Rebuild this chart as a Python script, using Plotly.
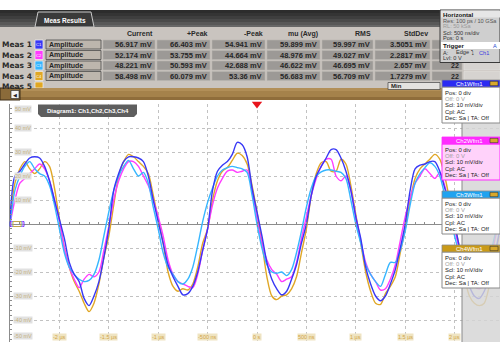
import plotly.graph_objects as go

W, H = 500, 342
def X(px): return px / W
def Y(py): return 1 - py / H

# ---------------- data ----------------
time_us = [-2.50, -2.45, -2.40, -2.35, -2.30, -2.25, -2.20, -2.15, -2.10, -2.05,
           -2.00, -1.95, -1.90, -1.85, -1.80, -1.75, -1.70, -1.65, -1.60, -1.55,
           -1.50, -1.45, -1.40, -1.35, -1.30, -1.25, -1.20, -1.15, -1.10, -1.05,
           -1.00, -0.95, -0.90, -0.85, -0.80, -0.75, -0.70, -0.65, -0.60, -0.55,
           -0.50, -0.45, -0.40, -0.35, -0.30, -0.25, -0.20, -0.15, -0.10, -0.05,
           0.00, 0.05, 0.10, 0.15, 0.20, 0.25, 0.30, 0.35, 0.40, 0.45,
           0.50, 0.55, 0.60, 0.65, 0.70, 0.75, 0.80, 0.85, 0.90, 0.95,
           1.00, 1.05, 1.10, 1.15, 1.20, 1.25, 1.30, 1.35, 1.40, 1.45,
           1.50, 1.55, 1.60, 1.65, 1.70, 1.75, 1.80, 1.85, 1.90, 1.95,
           2.00, 2.05, 2.10, 2.15, 2.20, 2.25, 2.30, 2.35, 2.40, 2.45]

ch1_mv = [2, 20, 22, 25, 27.5, 28, 27.5, 24, 18, 10,
          2, -6, -16, -21, -24, -31, -34, -30, -24, -14,
          -2, 14, 21, 26, 28, 28, 27.5, 26, 20, 10,
          1, -8, -17, -22, -26, -29.5, -29, -26, -20, -11,
          -2, 14, 22, 24.5, 26, 29, 34, 33, 28, 15,
          5, -5, -16, -23, -27, -29.5, -28, -23, -17, -8,
          0, 12, 20, 24, 27.5, 31, 31, 27.5, 22, 14,
          3, -6, -18, -25, -30, -32, -30, -25, -19, -10,
          0, 14, 23, 24.5, 25, 26, 26, 22, 15, 8,
          0, -10, -20, -26, -30, -31, -28, -22, -14, -4]

ch2_mv = [0, 10, 17, 19, 21, 23, 25, 23, 18, 10,
          1, -10, -18, -23, -26.5, -23, -21, -22, -20, -11,
          -1, 10, 18, 23, 26, 26, 24, 20, 16, 10,
          3, -5, -15, -21, -24, -25, -26, -26.5, -21, -11,
          -2, 8, 15, 19, 22, 22.5, 21.5, 22, 22.5, 14,
          2, -8, -15, -19, -21, -24, -23, -22, -16, -6,
          3, 12, 19, 24, 27, 27, 20, 18, 20, 14,
          3, -7, -16, -21, -24, -27.5, -27, -23, -17, -7,
          3, 11, 17, 20, 23, 21, 19, 21.5, 16, 7,
          -2, -11, -18, -23, -26, -27, -25, -18, -8, 2]

ch3_mv = [0, 14, 20, 24, 26, 23, 21, 20, 16, 8,
          -2, -12, -18, -21, -23, -24, -23.5, -21, -15, -5,
          5, 14, 20, 24, 26.5, 23, 20, 21.5, 17, 7,
          -2, -12, -18, -21, -24, -25, -23, -18, -9, 1,
          9, 15, 20, 22.5, 23.5, 24, 23.5, 23, 21.5, 12,
          0, -10, -17, -20, -20.5, -20, -21.5, -19, -12, -3,
          7, 15, 20, 21.7, 22.5, 22.5, 22, 21.5, 19, 10,
          0, -8, -17, -21, -24, -26, -21, -16, -16, -11,
          -3, 8, 17, 21, 23.5, 25.5, 24, 20, 12, 3,
          -5, -13, -19, -23, -25, -25, -22, -15, -6, 3]

ch4_mv = [2, 17, 23, 26, 23, 21, 23, 26, 24, 15,
          2, -10, -18, -24, -28, -33, -36.5, -33, -25, -14,
          -5, 8, 20, 26, 29, 28, 26, 24, 21, 12,
          2, -8, -20, -26, -28, -27, -27.5, -25, -18, -8,
          -2, 10, 18, 22, 23.5, 26.5, 29.5, 28.5, 25, 16,
          5, -8, -22, -30, -31.5, -30, -29.5, -27, -22, -12,
          -2, 12, 21, 25.5, 26, 22, 22, 27, 25, 16,
          4, -8, -20, -28, -33, -33.5, -29, -26, -22, -12,
          -2, 10, 19, 23, 25, 27, 29, 27, 20, 10,
          0, -10, -22, -30, -33, -34, -33, -26, -16, -5]

channel_names = ["Ch1", "Ch2", "Ch3", "Ch4"]
channel_colors = ["#3838f5", "#ff3cff", "#36b6ff", "#e0a726"]

meas_labels = ["Meas 1", "Meas 2", "Meas 3", "Meas 4"]
meas_type = ["Amplitude", "Amplitude", "Amplitude", "Amplitude"]
col_headers = ["Current", "+Peak", "-Peak", "mu (Avg)", "RMS", "StdDev"]
current_vals = ["56.917 mV", "52.174 mV", "48.221 mV", "58.498 mV"]
peak_pos_vals = ["66.403 mV", "53.755 mV", "50.593 mV", "60.079 mV"]
peak_neg_vals = ["54.941 mV", "44.664 mV", "42.688 mV", "53.36 mV"]
mu_avg_vals = ["59.899 mV", "48.976 mV", "46.622 mV", "56.683 mV"]
rms_vals = ["59.997 mV", "49.027 mV", "46.695 mV", "56.709 mV"]
stddev_vals = ["3.5051 mV", "2.2817 mV", "2.657 mV", "1.7279 mV"]
count_vals = ["22", "22", "22", "22"]

x_tick_vals = [-2, -1.5, -1, -0.5, 0, 0.5, 1, 1.5, 2, 2.5]
x_tick_text = ["-2 µs", "-1.5 µs", "-1 µs", "-500 ns", "0 s", "500 ns", "1 µs", "1.5 µs", "2 µs", "2.5 µs"]
y_tick_vals = [50, 40, 30, 20, 10, -10, -20, -30, -40, -50]
y_tick_text = ["50 mV", "40 mV", "30 mV", "20 mV", "10 mV", "-10 mV", "-20 mV", "-30 mV", "-40 mV", "-50 mV"]
trigger_time = [0.0]

# ---------------- layout helpers ----------------
shapes = []
annotations = []
UI = "DejaVu Sans"
NUM = "Liberation Sans"

def rect(x0, y0, x1, y1, fill, line=None, lw=1, layer="above"):
    shapes.append(dict(type="rect", xref="paper", yref="paper",
                       x0=X(x0), x1=X(x1), y0=Y(y1), y1=Y(y0),
                       fillcolor=fill, layer=layer,
                       line=dict(color=line or fill, width=lw if line else 0)))

def path(pts, fill, line=None, lw=1, layer="above"):
    d = "M " + " L ".join(f"{X(a):.5f},{Y(b):.5f}" for a, b in pts) + " Z"
    shapes.append(dict(type="path", xref="paper", yref="paper", path=d,
                       fillcolor=fill, layer=layer,
                       line=dict(color=line or fill, width=lw if line else 0)))

def txt(x, y, s, size=7, color="#222", bold=False, xanchor="left", family=UI, bg=None):
    annotations.append(dict(x=X(x), y=Y(y), xref="paper", yref="paper",
                            text=s, showarrow=False, xanchor=xanchor, yanchor="middle",
                            font=dict(size=size, color=color, family=family,
                                      weight="bold" if bold else "normal"),
                            bgcolor=bg, borderpad=0))

# ---------------- top panel ----------------
rect(0, 0, 500, 10, "#ffffff")
for (a, b, c) in [(10, 13, "#2c2c2c"), (13, 16, "#343434"), (16, 19, "#3e3e3e"),
                  (19, 22, "#4a4a4a"), (22, 25, "#585858"), (25, 27, "#676767")]:
    rect(0, a, 440, b, c)
path([(35, 27), (38, 12), (91, 12), (94, 27)], "#3a3a3a", line="#c8c8c8", lw=1)
txt(64.5, 20, "Meas Results", size=6.5, color="#ffffff", bold=True, xanchor="center", family=NUM)

rect(0, 27, 440, 88, "#c9c4bf")
rect(440, 62, 500, 88, "#c9c4bf")

col_right = [155, 210, 265, 320, 373, 430]
col_left = [103, 157, 212, 267, 322, 375]
for h, xr in zip(col_headers, col_right):
    txt(xr - 1, 34, h, size=7, color="#2a2a2a", bold=True, xanchor="right", family=NUM)

row_c = [44.5, 55.0, 65.5, 76.0]
cols_vals = [current_vals, peak_pos_vals, peak_neg_vals, mu_avg_vals, rms_vals, stddev_vals]
for i in range(4):
    yc = row_c[i]
    txt(1, yc, meas_labels[i], size=7.5, color="#2a2a2a", bold=True, family=UI)
    rect(35, yc - 4.5, 43, yc + 4.5, channel_colors[i], line="#f0f0f0", lw=0.7)
    txt(39, yc, "C" + str(i + 1), size=4, color="#ffffff", xanchor="center", family=NUM)
    rect(46, yc - 4.5, 101, yc + 4.5, "#bdb6ad", line="#4a4a4a", lw=0.8)
    txt(48, yc, meas_type[i], size=7, color="#262626", bold=True, family=NUM)
    for j in range(6):
        rect(col_left[j], yc - 4.5, col_right[j], yc + 4.5, "#9c9996", line="#b9b5b0", lw=0.6)
        txt(col_right[j] - 2, yc, cols_vals[j][i], size=7.5, color="#262626", bold=True,
            xanchor="right", family=NUM)
    rect(432, yc - 4.5, 462, yc + 4.5, "#9c9996", line="#b9b5b0", lw=0.6)
    if yc > 64:
        txt(460, yc + 0.3, count_vals[i], size=7, color="#262626", bold=True, xanchor="right", family=NUM)
    rect(464, yc - 4.5, 500, yc + 4.5, "#d6d3d0", line="#e2e0de", lw=0.6)
txt(1, 86.5, "Meas 5", size=7.5, color="#2a2a2a", bold=True, family=UI)
rect(35, 82, 43, 88, "#e0a722", line="#f0f0f0", lw=0.7)

# brown scroll bar
for (a, b, c) in [(88, 91, "#b28f58"), (91, 97, "#a5824b"), (97, 100, "#8f6d3b")]:
    rect(0, a, 500, b, c)
rect(0, 88, 20, 100, "#8b6b3a", line="#3e2f18", lw=1)
rect(11, 90.5, 19, 98.5, "#f4f4f4", line="#222222", lw=0.6)
txt(15, 94.5, "◀", size=5, color="#222222", xanchor="center", family=UI)
rect(495, 90, 496, 98, "#3e2f18")
rect(497.5, 90, 498.5, 98, "#3e2f18")
rect(388, 82.5, 440, 89.5, "#e4e2df", line="#444444", lw=0.7)
txt(390, 86, "Min", size=6, color="#222222", bold=True, family=NUM)

# Horizontal panel
rect(440, 10, 500, 62.5, "#cfcfcf", line="#3a3a3a", lw=1)
rect(441, 10.5, 500, 17.5, "#e6e6e6")
txt(442, 14, "Horizontal", size=6.2, color="#111111", bold=True, family=NUM)
txt(442, 20.5, "Res: 100 ps / 10 GSa", size=5.6, color="#555555", family=NUM)
txt(442, 26.5, "RL: 50 kSa", size=5.6, color="#9a9a9a", family=NUM)
txt(442, 32.5, "Scl: 500 ns/div", size=5.6, color="#333333", family=NUM)
txt(442, 38.5, "Pos: 0 s", size=5.6, color="#333333", family=NUM)
rect(441, 42, 500, 49, "#ffffff")
txt(442, 45.5, "Trigger", size=6.2, color="#111111", bold=True, family=NUM)
txt(498, 45.5, "A", size=5.6, color="#2a4ad0", xanchor="right", family=NUM)
txt(442, 53, "A:", size=5.6, color="#333333", family=NUM)
txt(455, 53, "Edge ⤵", size=5.6, color="#333333", family=NUM)
txt(478, 53, "Ch1", size=5.6, color="#3a3ae0", family=NUM)
txt(442, 58.5, "Lvl: 0 V", size=5.6, color="#333333", family=NUM)

# ---------------- plot decorations ----------------
path([(38, 104.5), (137, 104.5), (137, 114), (134, 117), (41, 117), (38, 114)], "#5e5e5e")
txt(87.5, 111, "Diagram1: Ch1,Ch2,Ch3,Ch4", size=6, color="#ffffff", bold=True, xanchor="center", family=NUM)

for k, c in enumerate(["#3535f5", "#ff3cff", "#32b4ff", "#e0a722"]):
    rect(10 + k, 221.5, 24 - k, 226.5, "rgba(0,0,0,0)", line=c, lw=0.8)

rect(462, 100, 500, 342, "rgba(212,212,212,0.82)", line=None)
rect(461.5, 100, 462.5, 342, "#8a8a8a")

for v, t in zip(y_tick_vals, y_tick_text):
    ypx = 224 - v * 2.4
    if v == 50:
        ypx = 109
    if v == -50:
        ypx = 336
    txt(23, ypx, t, size=5.5, color="#c6b27e", xanchor="center", family=NUM, bg="#e1e1e1")
for v, t in zip(x_tick_vals, x_tick_text):
    annotations.append(dict(x=v, y=Y(336.5), xref="x", yref="paper", text=t, showarrow=False,
                            xanchor=("right" if v == 2.5 else "center"), yanchor="middle",
                            xshift=(-5 if v == 2.5 else 0),
                            font=dict(size=5.5, color="#d2a648", family=NUM),
                            bgcolor="#efe4c2", borderpad=0))

def chbox(yh, head_col, body_col, border_col, label):
    rect(442, yh + 7, 500, yh + 43, body_col, line=border_col, lw=1)
    rect(442, yh, 500, yh + 7, head_col, line=border_col, lw=0.8)
    txt(469, yh + 3.8, label, size=6, color="#ffffff", xanchor="center", family=NUM)
    rect(490, yh + 1.3, 498, yh + 5.7, "#d8a82a", line="#333333", lw=0.6)
    lines = [("Pos: 0 div", "#222222"), ("Off: 0 V", "#a0a0a0"), ("Scl: 10 mV/div", "#222222"),
             ("Cpl: AC", "#222222"), ("Dec: Sa | TA: Off", "#222222")]
    for k, (s, c) in enumerate(lines):
        txt(443.5, yh + 12.5 + 6.4 * k, s, size=5.9, color=c, family=NUM)

chbox(80, "#2b2bf2", "#ffffff", "#8a8a8a", "Ch1Wfm1")
chbox(137, "#ff2cff", "#ffd2fa", "#ff2cff", "Ch2Wfm1")
chbox(191, "#1fa3f0", "#ffffff", "#8a8a8a", "Ch3Wfm1")
chbox(245, "#c99a18", "#ffffff", "#8a8a8a", "Ch4Wfm1")

# ---------------- traces ----------------
fig = go.Figure()
series = [ch4_mv, ch2_mv, ch3_mv, ch1_mv]
order = [3, 1, 2, 0]
for s, k in zip(series, order):
    fig.add_trace(go.Scatter(x=time_us, y=s, mode="lines", name=channel_names[k],
                             line=dict(color=channel_colors[k], width=1.4, shape="spline", smoothing=0.8),
                             hoverinfo="skip"))
fig.add_trace(go.Scatter(x=trigger_time, y=[50], mode="markers",
                         marker=dict(symbol="triangle-down", size=9, color="#e8141c"),
                         cliponaxis=False, hoverinfo="skip"))

x_range = [-2.5, -2.5 + 490 / 98.8]
y_range = [50 - 238 / 2.4, 50]
fig.update_layout(
    width=W, height=H, margin=dict(l=0, r=0, t=0, b=0),
    paper_bgcolor="#ffffff", plot_bgcolor="#ffffff", showlegend=False,
    xaxis=dict(domain=[X(10), 1], range=x_range, dtick=0.5, tick0=0, showgrid=True,
               gridcolor="#c2c2c2", griddash="dot", gridwidth=1, zeroline=False,
               showticklabels=False, showline=False, ticks=""),
    xaxis2=dict(overlaying="x", anchor="free", position=Y(224), range=x_range,
                showgrid=False, zeroline=False, showticklabels=False, showline=False,
                ticks="outside", ticklen=2, tickcolor="#8c8c8c", dtick=0.5, tick0=0,
                minor=dict(dtick=0.1, ticks="inside", ticklen=2, tickcolor="#8c8c8c")),
    yaxis=dict(domain=[0, Y(104)], range=y_range, dtick=10, tick0=0, showgrid=True,
               gridcolor="#c2c2c2", griddash="dot", gridwidth=1,
               zeroline=True, zerolinecolor="#8c8c8c", zerolinewidth=1,
               showticklabels=False, showline=True, linecolor="#8c8c8c", linewidth=1,
               ticks="inside", ticklen=3, tickcolor="#8c8c8c",
               minor=dict(dtick=2, ticks="inside", ticklen=2, tickcolor="#8c8c8c")),
    shapes=shapes, annotations=annotations,
)
fig.add_trace(go.Scatter(x=[time_us[0]], y=[None], xaxis="x2", yaxis="y", mode="lines",
                         showlegend=False, hoverinfo="skip"))
fig.write_html("out.html", include_plotlyjs=True, config={"displayModeBar": False},
               post_script="document.body.style.margin='0';document.body.style.overflow='hidden';")
